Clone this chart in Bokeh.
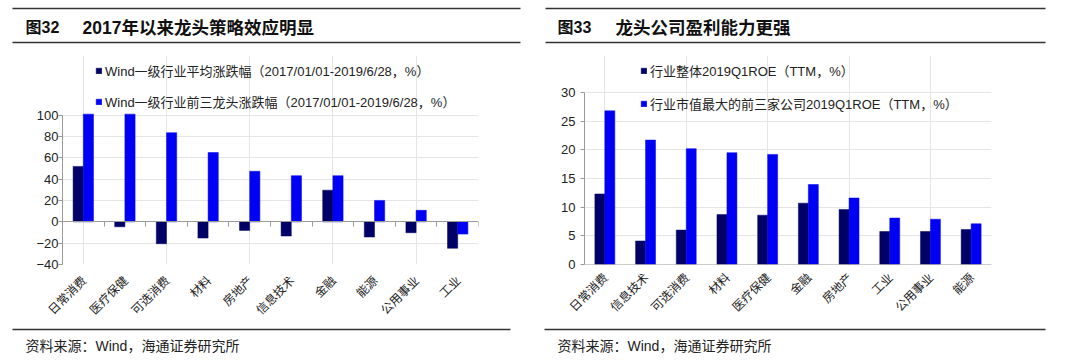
import numpy as np
from bokeh.plotting import figure
from bokeh.models import (Range1d, LinearAxis, FixedTicker, Legend, LegendItem,
                          ColumnDataSource)
from bokeh.layouts import column, row
from bokeh.embed import file_html
from bokeh.resources import INLINE
from bokeh.core.properties import value

# ---------------- data ----------------
left_categories = ["日常消费", "医疗保健", "可选消费", "材料", "房地产",
                   "信息技术", "金融", "能源", "公用事业", "工业"]
left_avg = [52.0, -4.6, -20.5, -15.2, -8.0, -13.3, 29.7, -14.2, -10.2, -24.8]
left_top3 = [101.0, 101.0, 83.6, 65.0, 47.4, 43.3, 43.3, 20.1, 10.8, -11.5]
left_yticks = [-40, -20, 0, 20, 40, 60, 80, 100]
left_names = ["Wind一级行业平均涨跌幅（2017/01/01-2019/6/28，%）",
              "Wind一级行业前三龙头涨跌幅（2017/01/01-2019/6/28，%）"]
left_title_no = "图32"
left_title = "2017年以来龙头策略效应明显"

right_categories = ["日常消费", "信息技术", "可选消费", "材料", "医疗保健",
                    "金融", "房地产", "工业", "公用事业", "能源"]
right_industry = [12.3, 4.1, 6.0, 8.7, 8.6, 10.7, 9.6, 5.75, 5.75, 6.1]
right_top3 = [26.8, 21.7, 20.2, 19.5, 19.2, 13.95, 11.6, 8.1, 7.9, 7.1]
right_yticks = [0, 5, 10, 15, 20, 25, 30]
right_names = ["行业整体2019Q1ROE（TTM，%）",
               "行业市值最大的前三家公司2019Q1ROE（TTM，%）"]
right_title_no = "图33"
right_title = "龙头公司盈利能力更强"

source_text = "资料来源：Wind，海通证券研究所"

# ---------------- styles ----------------
DARK = "#000066"
BLUE = "#0000f5"
AXIS = "#9a9a9a"
TXT = "#222222"
MIX_FONT = "'Liberation Sans', 'Noto Sans CJK SC'"
CJK_FONT = "'Noto Sans CJK SC'"

MAIN_H = 277


def make_panel(cats, s1, s2, names, yticks, y_end, bl, br, bb, legend_loc,
               legend_spacing, label_standoff_y, cat_standoff):
    n = len(cats)
    idx = np.arange(n)
    w = 0.245
    src = ColumnDataSource(dict(x1=idx - w / 2, x2=idx + w / 2, s1=s1, s2=s2))
    p = figure(width=540, height=MAIN_H, output_backend="svg", toolbar_location=None,
               x_range=Range1d(-0.5, n - 0.5),
               y_range=Range1d(yticks[0], y_end),
               x_axis_location=None, y_axis_location=None,
               min_border_left=bl, min_border_right=br,
               min_border_top=5, min_border_bottom=bb)
    p.outline_line_color = None
    p.background_fill_color = "white"
    p.border_fill_color = "white"

    r1 = p.vbar(x="x1", top="s1", bottom=0, width=w, source=src,
                fill_color=DARK, line_color=DARK, line_width=0.5)
    r2 = p.vbar(x="x2", top="s2", bottom=0, width=w, source=src,
                fill_color=BLUE, line_color=BLUE, line_width=0.5)

    # y axis
    ya = LinearAxis(ticker=FixedTicker(ticks=yticks), bounds=(yticks[0], yticks[-1]))
    ya.axis_line_color = AXIS
    ya.major_tick_line_color = AXIS
    ya.minor_tick_line_color = None
    ya.major_tick_out = 4
    ya.major_tick_in = 0
    ya.major_label_standoff = label_standoff_y
    ya.major_label_text_font = MIX_FONT
    ya.major_label_text_font_size = "13px"
    ya.major_label_text_color = TXT
    p.add_layout(ya, "left")

    # x axis line at zero with tick marks at category boundaries (no labels)
    bounds = [i - 0.5 for i in range(n + 1)]
    xa = LinearAxis(ticker=FixedTicker(ticks=[], minor_ticks=bounds),
                    fixed_location=0, bounds=(-0.5, n - 0.5))
    xa.axis_line_color = AXIS
    xa.major_tick_line_color = None
    xa.minor_tick_line_color = AXIS
    xa.minor_tick_out = 5
    xa.minor_tick_in = 0
    xa.major_tick_out = 0
    xa.major_tick_in = 0
    xa.major_label_standoff = 0
    p.add_layout(xa, "below")

    # category labels axis
    la = LinearAxis(ticker=FixedTicker(ticks=list(idx)),
                    major_label_overrides={int(i): c for i, c in enumerate(cats)})
    la.axis_line_color = None
    la.major_tick_line_color = None
    la.minor_tick_line_color = None
    la.major_tick_out = 0
    la.major_tick_in = 0
    la.major_label_standoff = cat_standoff
    la.major_label_orientation = np.pi / 4
    la.major_label_text_font = CJK_FONT
    la.major_label_text_font_size = "12px"
    la.major_label_text_color = TXT
    p.add_layout(la, "below")

    legend = Legend(items=[LegendItem(label=names[0], renderers=[r1]),
                           LegendItem(label=names[1], renderers=[r2])],
                    location=legend_loc)
    legend.label_text_font = MIX_FONT
    legend.label_text_font_size = "13px"
    legend.label_text_color = TXT
    legend.glyph_width = 7
    legend.glyph_height = 7
    legend.label_height = 16
    legend.label_standoff = 3
    legend.spacing = legend_spacing
    legend.padding = 0
    legend.margin = 0
    legend.border_line_color = None
    legend.background_fill_alpha = 0
    p.add_layout(legend)
    return p


mainL = make_panel(left_categories, left_avg, left_top3, left_names, left_yticks,
                   156.0, 62, 62, 62, (33, 153), 12, 0, 13)
mainR = make_panel(right_categories, right_industry, right_top3, right_names,
                   right_yticks, 36.45, 44, 89, 63, (56, 151), 14, 5, 10)


def deco_figure(h):
    f = figure(width=1080, height=h, output_backend="svg", toolbar_location=None,
               x_range=Range1d(0, 1080), y_range=Range1d(h, 0),
               x_axis_location=None, y_axis_location=None, min_border=0)
    f.outline_line_color = None
    f.grid.grid_line_color = None
    return f


header = deco_figure(50)
header.segment(x0=[12, 545, 12, 545], y0=[8, 8, 42, 42], x1=[520, 1045, 520, 1045],
               y1=[8, 8, 42, 42], line_color="#333333", line_width=1.3)
header.text(x=[25, 557], y=[27, 27], text=[left_title_no, right_title_no],
            text_font=value(MIX_FONT), text_font_size="16px",
            text_font_style="bold", text_baseline="middle", text_color="#111111")
header.text(x=[82, 615], y=[27, 27], text=[left_title, right_title],
            text_font=value(MIX_FONT), text_font_size="17.5px",
            text_font_style="bold", text_baseline="middle", text_color="#111111")

FOOT_H = 362 - 50 - MAIN_H
footer = deco_figure(FOOT_H)
footer.segment(x0=[12, 544], y0=[2, 2], x1=[510, 1045], y1=[2, 2],
               line_color="#333333", line_width=1.3)
footer.text(x=[25, 557], y=[18, 18], text=[source_text, source_text],
            text_font=value(MIX_FONT), text_font_size="14px",
            text_baseline="middle", text_color="#222222")

layout = column(header, row(mainL, mainR), footer)
open("out.html", "w").write(file_html(layout, INLINE))
